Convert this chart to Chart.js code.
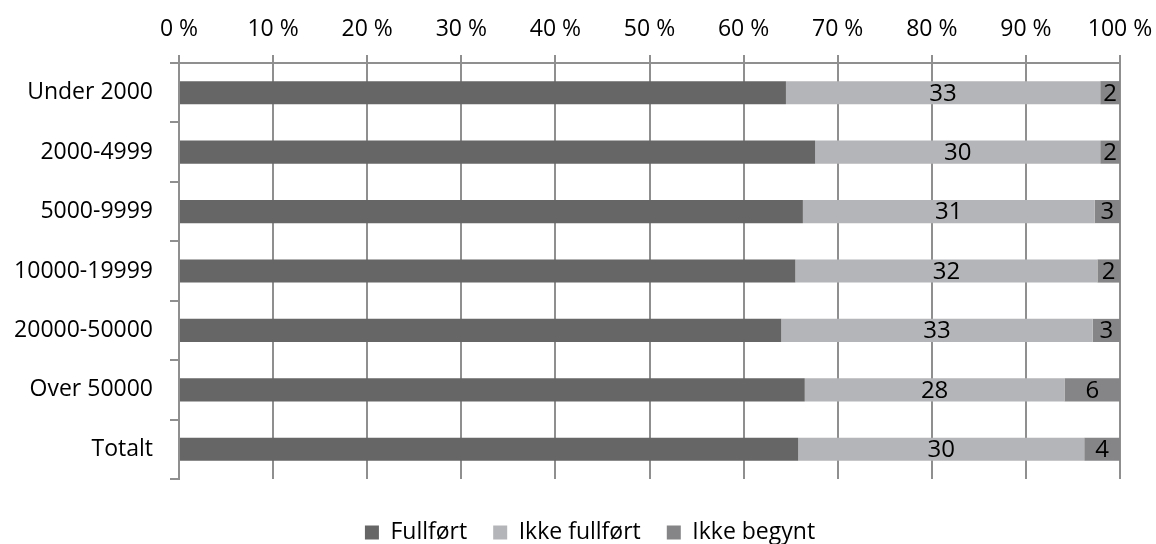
<!DOCTYPE html>
<html>
<head>
<meta charset="utf-8">
<script src="https://cdn.jsdelivr.net/npm/chart.js@4"></script>
<style>
  html, body { margin: 0; padding: 0; background: #fff; }
  #wrap { width: 1156px; height: 544px; }
</style>
</head>
<body>
<div id="wrap"><canvas id="chart" width="1156" height="544"></canvas></div>
<script>
const categories = ['Under 2000', '2000-4999', '5000-9999', '10000-19999', '20000-50000', 'Over 50000', 'Totalt'];
const fullfort = [64.5, 67.6, 66.3, 65.5, 64.0, 66.5, 65.8];
const ikkeFullfort = [33.4, 30.3, 31.0, 32.1, 33.1, 27.6, 30.4];
const ikkeBegynt = [2.1, 2.1, 2.7, 2.4, 2.9, 5.9, 3.8];
const seriesNames = ['Fullført', 'Ikke fullført', 'Ikke begynt'];
const percentTicks = [0, 10, 20, 30, 40, 50, 60, 70, 80, 90, 100];

const FONT = '"Open Sans", "Noto Sans", sans-serif';
const lineGray = '#8f8f8f';

// numbers on the two right segments
const valueLabels = {
    id: 'valueLabels',
    afterDatasetsDraw(chart) {
        const ctx = chart.ctx;
        ctx.save();
        ctx.font = '24px ' + FONT;
        ctx.fillStyle = '#000';
        ctx.textAlign = 'center';
        ctx.textBaseline = 'middle';
        [1, 2].forEach(i => {
            const meta = chart.getDatasetMeta(i);
            meta.data.forEach((bar, j) => {
                const v = chart.data.datasets[i].data[j];
                const c = bar.getCenterPoint();
                ctx.fillText(String(Math.round(v)), c.x, c.y + 1);
            });
        });
        ctx.restore();
    }
};

// blank axis used only to reserve space
const spacer = size => ({
    type: 'linear',
    display: true,
    afterFit: scale => {
        if (scale.isHorizontal()) scale.height = size;
        else scale.width = size;
    },
    ticks: { display: false },
    grid: { display: false },
    border: { display: false }
});

new Chart(document.getElementById('chart').getContext('2d'), {
    type: 'bar',
    data: {
        labels: categories,
        datasets: [
            { label: seriesNames[0], data: fullfort, backgroundColor: '#666666' },
            { label: seriesNames[1], data: ikkeFullfort, backgroundColor: '#b4b5b8' },
            { label: seriesNames[2], data: ikkeBegynt, backgroundColor: '#858587' }
        ]
    },
    options: {
        indexAxis: 'y',
        responsive: false,
        animation: false,
        barPercentage: 0.39,
        categoryPercentage: 1,
        layout: { padding: { left: 0, right: -24, top: 0, bottom: -10 } },
        plugins: {
            tooltip: { enabled: false },
            legend: {
                position: 'bottom',
                labels: {
                    boxWidth: 14,
                    boxHeight: 14,
                    padding: 26,
                    color: '#000',
                    font: { family: FONT, size: 23 }
                }
            }
        },
        scales: {
            x: {
                position: 'top',
                stacked: true,
                min: 0,
                max: 100,
                afterBuildTicks: scale => {
                    scale.ticks = percentTicks.map(v => ({ value: v }));
                },
                afterFit: scale => {
                    scale.height = 63;
                    scale.paddingLeft = 0;
                    scale.paddingRight = 0;
                },
                ticks: {
                    padding: 12,
                    color: '#000',
                    font: { family: FONT, size: 23 },
                    callback: v => v + ' %'
                },
                grid: { color: lineGray, lineWidth: 2, tickLength: 8 },
                border: { color: lineGray, width: 2 }
            },
            y: {
                stacked: true,
                afterFit: scale => { scale.width = 179; },
                ticks: {
                    padding: 17,
                    color: '#000',
                    font: { family: FONT, size: 23 }
                },
                grid: { drawOnChartArea: false, color: lineGray, lineWidth: 2, tickLength: 9 },
                border: { color: lineGray, width: 2 }
            },
            yRight: Object.assign(spacer(60), { position: 'right' }),
            xBottom: Object.assign(spacer(16), { position: 'bottom' })
        }
    },
    plugins: [valueLabels]
});
</script>
</body>
</html>
